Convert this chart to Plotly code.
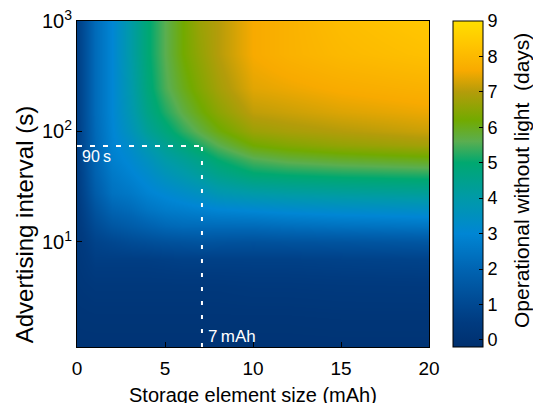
import plotly.graph_objects as go

# ---- data ----
storage_mAh = [0, 1, 2, 3, 4, 5, 6, 7, 8, 10, 12, 15, 20]
adv_interval_s = [1.12, 2, 4, 7, 10, 14, 20, 28, 40, 55, 75, 100, 150, 250, 500, 1000]
# days operational without light; rows follow adv_interval_s, columns follow storage_mAh
days_1p12 = [0.05, 0.05, 0.05, 0.05, 0.05, 0.05, 0.05, 0.05, 0.05, 0.05, 0.05, 0.05, 0.05]
days_2 = [0.1, 0.12, 0.12, 0.12, 0.12, 0.12, 0.12, 0.12, 0.12, 0.12, 0.12, 0.15, 0.15]
days_4 = [0.2, 0.3, 0.3, 0.3, 0.3, 0.3, 0.3, 0.3, 0.3, 0.35, 0.35, 0.38, 0.4]
days_7 = [0.25, 0.6, 0.6, 0.6, 0.6, 0.65, 0.7, 0.7, 0.7, 0.7, 0.7, 0.75, 0.8]
days_10 = [0.3, 0.8, 0.95, 1.1, 1.2, 1.3, 1.35, 1.4, 1.35, 1.3, 1.35, 1.4, 1.5]
days_14 = [0.35, 1.1, 1.5, 1.7, 1.9, 2.1, 2.2, 2.2, 2.2, 2.2, 2.3, 2.4, 2.5]
days_20 = [0.4, 1.4, 2.0, 2.2, 2.5, 2.7, 2.8, 2.9, 3.0, 3.1, 3.2, 3.3, 3.4]
days_28 = [0.45, 1.7, 2.4, 2.6, 2.9, 3.1, 3.3, 3.5, 3.8, 4.0, 4.1, 4.2, 4.3]
days_40 = [0.5, 1.9, 2.6, 2.9, 3.2, 3.6, 3.9, 4.2, 4.5, 4.9, 5.0, 5.1, 5.2]
days_55 = [0.55, 2.0, 2.8, 3.1, 3.5, 4.0, 4.3, 4.6, 5.0, 5.5, 5.7, 5.85, 6.0]
days_75 = [0.6, 2.1, 2.9, 3.3, 3.9, 4.4, 4.8, 5.2, 5.6, 6.2, 6.4, 6.6, 6.8]
days_100 = [0.6, 2.15, 2.95, 3.6, 4.3, 4.8, 5.3, 5.7, 6.1, 6.7, 6.85, 7.0, 7.2]
days_150 = [0.6, 2.2, 3.0, 3.8, 4.6, 5.2, 5.7, 6.1, 6.5, 7.1, 7.2, 7.35, 7.5]
days_250 = [0.6, 2.2, 3.0, 3.9, 4.8, 5.5, 6.0, 6.4, 6.8, 7.4, 7.5, 7.65, 7.8]
days_500 = [0.6, 2.2, 3.0, 4.0, 4.9, 5.6, 6.2, 6.6, 7.0, 7.6, 7.8, 8.0, 8.2]
days_1000 = [0.6, 2.2, 3.0, 4.0, 4.9, 5.6, 6.2, 6.7, 7.0, 7.6, 7.8, 8.1, 8.4]

days = [days_1p12, days_2, days_4, days_7, days_10, days_14, days_20, days_28,
        days_40, days_55, days_75, days_100, days_150, days_250, days_500, days_1000]

colorbar_ticks = [0, 1, 2, 3, 4, 5, 6, 7, 8, 9]
x_ticks = [0, 5, 10, 15, 20]
y_ticks = [10, 100, 1000]
y_ticktext = ["10<sup>1</sup>", "10<sup>2</sup>", "10<sup>3</sup>"]

chosen_storage = 7.1   # "7 mAh" guide
chosen_interval = 74   # "90 s" guide (position as drawn)

# ---- styling ----
cmin, cmax = -0.2, 9
stops = [(-0.2, "#00306f"), (0.5, "#003b80"), (1, "#004891"), (2, "#0064b2"),
         (3, "#0086d4"), (4, "#009aa8"), (5, "#00a870"), (5.6, "#5aae50"),
         (6.2, "#72aa00"), (7.0, "#b49c0a"), (7.6, "#f8aa00"), (8.3, "#ffc400"),
         (9, "#ffdf00")]
colorscale = [[(v - cmin) / (cmax - cmin), c] for v, c in stops]

FONT = "Liberation Sans, Arial, Helvetica, sans-serif"

fig = go.Figure()
fig.add_trace(go.Heatmap(
    x=storage_mAh, y=adv_interval_s, z=days,
    zsmooth="best", colorscale=colorscale, zmin=cmin, zmax=cmax,
    showscale=True,
    colorbar=dict(
        x=1.068, xanchor="left", xpad=0, thickness=30, thicknessmode="pixels",
        len=1, lenmode="fraction", y=0.5, yanchor="middle", ypad=0,
        outlinecolor="black", outlinewidth=1,
        tickmode="array", tickvals=colorbar_ticks,
        ticks="inside", ticklen=4, tickcolor="black",
        tickfont=dict(size=18, color="black", family=FONT),
    ),
))

fig.add_trace(go.Scatter(
    x=[0, chosen_storage], y=[chosen_interval, chosen_interval], mode="lines",
    line=dict(color="white", width=2, dash="5px,8px"), showlegend=False, hoverinfo="skip"))
fig.add_trace(go.Scatter(
    x=[chosen_storage, chosen_storage], y=[adv_interval_s[0], chosen_interval], mode="lines",
    line=dict(color="white", width=2, dash="4px,10px"), showlegend=False, hoverinfo="skip"))

fig.add_annotation(x=0.15, y=1.77, xref="x", yref="y", text="90\u2009s", showarrow=False,
                   xanchor="left", yanchor="middle", font=dict(size=16, color="white", family=FONT))
fig.add_annotation(x=7.35, y=0.14, xref="x", yref="y", text="7\u2009mAh", showarrow=False,
                   xanchor="left", yanchor="middle", font=dict(size=17, color="white", family=FONT))

# titles
fig.add_annotation(x=0.5, y=-0.147, xref="paper", yref="paper", text="Storage element size (mAh)",
                   showarrow=False, xanchor="center", yanchor="middle",
                   font=dict(size=20, color="black", family=FONT))
fig.add_annotation(x=-0.15, y=0.374, xref="paper", yref="paper", text="Advertising interval (s)",
                   showarrow=False, xanchor="center", yanchor="middle", textangle=-90,
                   font=dict(size=24, color="black", family=FONT))
fig.add_annotation(x=1.261, y=0.512, xref="paper", yref="paper",
                   text="Operational without light\u00a0 (days)",
                   showarrow=False, xanchor="center", yanchor="middle", textangle=-90,
                   font=dict(size=21, color="black", family=FONT))

fig.update_xaxes(range=[0, 20], tickmode="array", tickvals=x_ticks, ticks="inside",
                 ticklen=5, tickcolor="black", showline=True, linecolor="black", linewidth=1,
                 mirror=True, showgrid=False, zeroline=False, ticklabelstandoff=4,
                 tickfont=dict(size=19, color="black", family=FONT))
fig.update_yaxes(type="log", range=[0.0492, 3], tickmode="array", tickvals=y_ticks,
                 ticktext=y_ticktext, ticks="inside", ticklen=5, tickcolor="black",
                 showline=True, linecolor="black", linewidth=1, mirror=True,
                 showgrid=False, zeroline=False,
                 tickfont=dict(size=20, color="black", family=FONT))

fig.update_layout(
    width=533, height=403, margin=dict(l=77, r=104, t=21, b=56, autoexpand=False),
    paper_bgcolor="white", plot_bgcolor="white", showlegend=False,
    font=dict(family=FONT, color="black"),
)

fig.write_html("out.html", config={"displayModeBar": False},
               post_script="document.body.style.margin='0';document.body.style.overflow='hidden';")
